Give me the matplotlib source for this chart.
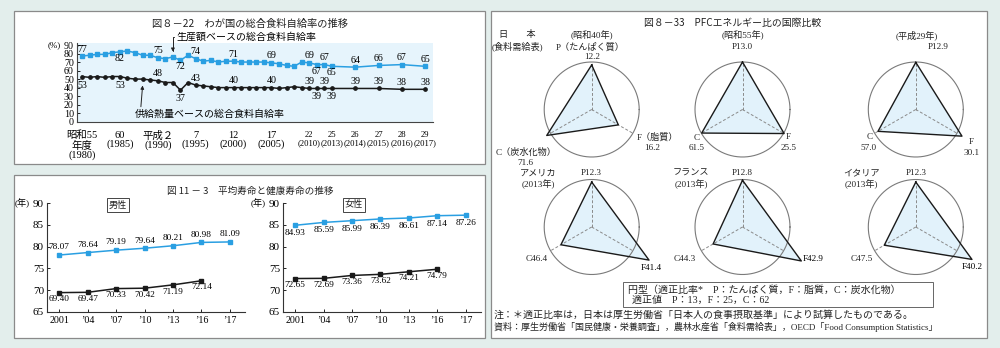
import numpy as np
import matplotlib.pyplot as plt
from matplotlib.patches import Rectangle

plt.rcParams['font.family'] = ['Liberation Serif', 'Noto Sans CJK JP']
GOTHIC = ['Noto Sans CJK JP', 'DejaVu Sans']

# 図8-22 総合食料自給率（年度, %）
food_years = list(range(1980, 2018))
food_prod = [77, 78, 79, 79, 81, 82, 83, 81, 78, 78,
             75, 74, 76, 72, 78, 74, 71, 72, 70, 71,
             71, 70, 70, 70, 70, 69, 68, 66, 65, 70,
             69, 67, 67, 65, 64, 66, 67, 65]
food_cal = [53, 52, 53, 52, 53, 53, 51, 50, 50, 49,
            48, 46, 46, 37, 46, 43, 42, 41, 40, 40,
            40, 40, 40, 40, 40, 40, 39, 40, 41, 40,
            39, 39, 39, 39, 39, 39, 38, 38]
label_years = [1980, 1985, 1990, 1993, 1995, 2000, 2005, 2010, 2011, 2012, 2013, 2014, 2015, 2016, 2017]
prod_label_pos = ['up', 'dn', 'up', 'dn', 'up', 'up', 'up', 'up', 'dn', 'up', 'dn', 'up', 'up', 'up', 'up']
cal_label_pos = ['dn', 'dn', 'up', 'dn', 'up', 'up', 'up', 'up', 'dn', 'up', 'dn', 'up', 'up', 'up', 'up']
food_ticks = [1980, 1985, 1990, 1995, 2000, 2005, 2010, 2013, 2014, 2015, 2016, 2017]
food_ticklabels = ['昭和55\n年度\n(1980)', '60\n(1985)', '平成２\n(1990)', '7\n(1995)', '12\n(2000)',
                   '17\n(2005)', '22\n(2010)', '25\n(2013)', '26\n(2014)', '27\n(2015)',
                   '28\n(2016)', '29\n(2017)']

# 図11-3 平均寿命と健康寿命（年）
le_years = ['2001', '’04', '’07', '’10', '’13', '’16', '’17']
male_life = [78.07, 78.64, 79.19, 79.64, 80.21, 80.98, 81.09]
male_healthy = [69.40, 69.47, 70.33, 70.42, 71.19, 72.14]
female_life = [84.93, 85.59, 85.99, 86.39, 86.61, 87.14, 87.26]
female_healthy = [72.65, 72.69, 73.36, 73.62, 74.21, 74.79]

# 図8-33 PFCエネルギー比
pfc_P = [12.2, 13.0, 12.9, 12.3, 12.8, 12.3]
pfc_F = [16.2, 25.5, 30.1, 41.4, 42.9, 40.2]
pfc_C = [71.6, 61.5, 57.0, 46.4, 44.3, 47.5]
pfc_ideal = [13, 25, 62]

BLUE = '#2a9fe2'
INK = '#1a1a1a'
W, H = 1000, 348

fig = plt.figure(figsize=(10, 3.48), dpi=100)
fig.patch.set_facecolor('#e3eeec')


def frac_rect(x0, y0, x1, y1):
    return [x0 / W, 1 - y1 / H, (x1 - x0) / W, (y1 - y0) / H]


def ftext(x, y, s, **kw):
    kw.setdefault('ha', 'center')
    kw.setdefault('va', 'center')
    kw.setdefault('fontsize', 6.6)
    kw.setdefault('color', '#222')
    fig.text(x / W, 1 - y / H, s, **kw)


# パネルの枠
for box in [(13.5, 11, 485, 164), (13.5, 175, 485, 338), (490.5, 11, 987, 338)]:
    l, b, w, h = frac_rect(*box)
    fig.add_artist(Rectangle((l, b), w, h, transform=fig.transFigure, facecolor='white',
                             edgecolor='#8a8a8a', lw=0.9, zorder=-5))

# ---- 図8-22 ----
GAP = 3.07


def x_fwd(x):
    x = np.asarray(x, dtype=float)
    return np.where(x <= 2013, x, 2013 + (x - 2013) * GAP)


def x_inv(s):
    s = np.asarray(s, dtype=float)
    return np.where(s <= 2013, s, 2013 + (s - 2013) / GAP)


ax = fig.add_axes(frac_rect(76.7, 43.3, 432.7, 121.7))
ax.set_facecolor('#e6f4fc')
ax.set_xscale('function', functions=(x_fwd, x_inv))
ax.set_xlim(1979.3, 2017.33)
ax.set_ylim(0, 92)
ax.plot(food_years, food_prod, '-s', color=BLUE, ms=2.6, lw=1.1)
ax.plot(food_years, food_cal, '-o', color=INK, ms=2.4, lw=1.1)
for s in ['top', 'right']:
    ax.spines[s].set_visible(False)
for s in ['left', 'bottom']:
    ax.spines[s].set_color('#444')
    ax.spines[s].set_linewidth(0.8)
ax.set_yticks(range(0, 91, 10))
ax.tick_params(axis='y', direction='in', length=2.5, width=0.6, pad=2, labelsize=7.2)
ax.set_xticks(food_ticks)
ax.set_xticklabels(food_ticklabels, linespacing=1.0)
ax.minorticks_off()
ax.tick_params(axis='x', length=0, pad=6.5, labelsize=7.5)
for t, yr in zip(ax.get_xticklabels(), food_ticks):
    if yr >= 2010:
        t.set_fontsize(6.2)
ax.annotate('(%)', xy=(0, 90), xycoords=('axes fraction', 'data'), xytext=(-16, 0),
            textcoords='offset pixels', ha='right', va='center', fontsize=6.5)

for yr, p1, p2 in zip(label_years, prod_label_pos, cal_label_pos):
    v = food_prod[yr - 1980]
    ax.annotate(str(v), (yr, v), xytext=(0, 7 if p1 == 'up' else -6.5), textcoords='offset pixels',
                ha='center', va='center', fontsize=7.2, annotation_clip=False)
    v = food_cal[yr - 1980]
    ax.annotate(str(v), (yr, v), xytext=(0, 7 if p2 == 'up' else -8.5), textcoords='offset pixels',
                ha='center', va='center', fontsize=7.2, annotation_clip=False)

v = food_prod[1992 - 1980]
ax.annotate('生産額ベースの総合食料自給率', xy=(1992, v + 6), xytext=(1992.5, 99),
            ha='left', va='center', fontsize=7.2, annotation_clip=False,
            arrowprops=dict(arrowstyle='-|>', color='#222', lw=0.7, shrinkA=0, shrinkB=0,
                            relpos=(0, 0.5), mutation_scale=5,
                            connectionstyle='angle,angleA=180,angleB=90,rad=0'))
v = food_cal[1988 - 1980]
ax.annotate('供給熱量ベースの総合食料自給率', xy=(1988, v - 7.5), xytext=(1987.0, 8.7),
            ha='left', va='center', fontsize=7.2, annotation_clip=False,
            arrowprops=dict(arrowstyle='-|>', color='#222', lw=0.7, shrinkA=0, shrinkB=0,
                            relpos=(0.037, 0.9), mutation_scale=5))
ftext(250, 24, '図８－22　わが国の総合食料自給率の推移', family=GOTHIC, fontsize=7.4)

# ---- 図11-3 ----
panels = [
    (46.7, 245.0, male_life, male_healthy, 7.7, -6.7, '男性', 118),
    (282.7, 480.7, female_life, female_healthy, -8.0, -6.5, '女性', 354),
]
for x0, x1, life, healthy, off_l, off_h, name, nx in panels:
    la = fig.add_axes(frac_rect(x0, 203.3, x1, 311.7))
    la.set_facecolor('none')
    la.plot(le_years, life, '-s', color=BLUE, ms=3.2, lw=1.1, clip_on=False)
    la.plot(le_years[:len(healthy)], healthy, '-s', color=INK, ms=3.2, lw=1.1, clip_on=False)
    la.set_xlim(-0.44, 6.53)
    la.set_ylim(65, 90)
    la.set_yticks(range(65, 91, 5))
    for s in ['top', 'right']:
        la.spines[s].set_visible(False)
    for s in ['left', 'bottom']:
        la.spines[s].set_color('#333')
        la.spines[s].set_linewidth(0.8)
    la.tick_params(direction='in', length=2.5, width=0.6, labelsize=7.2, pad=3)
    la.tick_params(axis='y', labelsize=8.0, pad=2)
    la.annotate('(年)', xy=(0, 90), xycoords=('axes fraction', 'data'), xytext=(-17, 0),
                textcoords='offset pixels', ha='right', va='center', fontsize=6.6)
    for i, v in enumerate(life):
        la.annotate(f'{v:.2f}', (i, v), xytext=(0, off_l), textcoords='offset pixels',
                    ha='center', va='center', fontsize=6.7, annotation_clip=False)
    for i, v in enumerate(healthy):
        la.annotate(f'{v:.2f}', (i, v), xytext=(0, off_h), textcoords='offset pixels',
                    ha='center', va='center', fontsize=6.7, annotation_clip=False)
    ftext(nx, 205, name, fontsize=6.6,
          bbox=dict(boxstyle='square,pad=0.25', fc='white', ec='#444', lw=0.7))
ftext(250, 191, '図 11 － 3　平均寿命と健康寿命の推移', family=GOTHIC, fontsize=6.9)

# ---- 図8-33 ----
K = 0.6


def r_fwd(r):
    r = np.asarray(r, dtype=float)
    return np.where(r <= 1, r, 1 + K * (r - 1))


def r_inv(s):
    s = np.asarray(s, dtype=float)
    return np.where(s <= 1, s, 1 + (s - 1) / K)


theta = np.radians([90, -30, 210])
RPX, RMAX = 47.5, 2.0
half = RPX * float(r_fwd(RMAX))
centers = [(591.7, 109.5), (742.5, 109.5), (915.8, 109.5),
           (591.7, 227.0), (742.5, 227.0), (915.8, 227.0)]

for i, (cx, cy) in enumerate(centers):
    pax = fig.add_axes(frac_rect(cx - half, cy - half, cx + half, cy + half), projection='polar')
    pax.set_rscale('function', functions=(r_fwd, r_inv))
    pax.set_ylim(0, RMAX)
    pax.set_axis_off()
    ratios = np.array([pfc_P[i], pfc_F[i], pfc_C[i]]) / np.array(pfc_ideal)
    tt = np.append(theta, theta[0])
    rr = np.append(ratios, ratios[0])
    pax.fill(tt, rr, facecolor='#e2f2fb', edgecolor='none', zorder=1)
    circ = np.linspace(0, 2 * np.pi, 361)
    pax.plot(circ, np.ones_like(circ), color='#7a7a7a', lw=0.8, zorder=2)
    for th in theta:
        pax.plot([th, th], [0, 1], ls=(0, (3, 2)), color='#8a8a8a', lw=0.7, zorder=3)
    pax.plot(tt, rr, color=INK, lw=1.0, zorder=4)
    if i >= 3:
        ha, dx, dy = [('center', 2, -7.5), ('left', 1, 1.5), ('center', 0, -7.5)][i - 3]
        pax.annotate(f'F{pfc_F[i]:.1f}', (theta[1], ratios[1]), xytext=(dx, dy),
                     textcoords='offset pixels', ha=ha, va='center', fontsize=6.6,
                     annotation_clip=False)

# 日本（食料需給表）
c = centers[0]
ftext(c[0] - 74.7, c[1] - 74.5, '日　　本')
ftext(c[0] - 74.0, c[1] - 62.8, '(食料需給表)')
ftext(c[0], c[1] - 74.5, '(昭和40年)')
ftext(c[0] - 1.7, c[1] - 62.8, 'P（たんぱく質）')
ftext(c[0], c[1] - 52.8, f'{pfc_P[0]:.1f}')
ftext(c[0] + 45, c[1] + 27.2, 'F（脂質）', ha='left')
ftext(c[0] + 60, c[1] + 38.2, f'{pfc_F[0]:.1f}')
ftext(c[0] - 65.2, c[1] + 43.2, 'C（炭水化物）')
ftext(c[0] - 66.7, c[1] + 53.2, f'{pfc_C[0]:.1f}')

c = centers[1]
ftext(c[0], c[1] - 74.5, '(昭和55年)')
ftext(c[0], c[1] - 62.8, f'P{pfc_P[1]:.1f}')
ftext(c[0] + 45.5, c[1] + 27.5, 'F')
ftext(c[0] + 46.5, c[1] + 38.2, f'{pfc_F[1]:.1f}')
ftext(c[0] - 45.8, c[1] + 28.2, 'C')
ftext(c[0] - 45.8, c[1] + 38.8, f'{pfc_C[1]:.1f}')

c = centers[2]
ftext(c[0] + 1, c[1] - 74.5, '(平成29年)')
ftext(c[0] + 22.5, c[1] - 62.8, f'P{pfc_P[2]:.1f}')
ftext(c[0] + 55.9, c[1] + 32.2, 'F')
ftext(c[0] + 55.9, c[1] + 43.8, f'{pfc_F[2]:.1f}')
ftext(c[0] - 45.8, c[1] + 27.8, 'C')
ftext(c[0] - 47.5, c[1] + 38.8, f'{pfc_C[2]:.1f}')

for i, name, nx, cxo in [(3, 'アメリカ', -53.7, -55.0), (4, 'フランス', -51.5, -57.5), (5, 'イタリア', -54.0, -54.0)]:
    c = centers[i]
    ftext(c[0] + nx, c[1] - 53.7, name)
    ftext(c[0] + nx, c[1] - 43.0, '(2013年)')
    ftext(c[0], c[1] - 53.7, f'P{pfc_P[i]:.1f}')
    ftext(c[0] + cxo, c[1] + 32.0, f'C{pfc_C[i]:.1f}')

l, b, w, h = frac_rect(623.3, 282.3, 932.7, 306.7)
fig.add_artist(Rectangle((l, b), w, h, transform=fig.transFigure, facecolor='white',
                         edgecolor='#666', lw=0.7))
ftext(628.3, 290.3, '円型（適正比率*　P：たんぱく質，F：脂質，C：炭水化物）', ha='left', fontsize=7.2)
ftext(631.7, 300.5, f'適正値　P：{pfc_ideal[0]}，F：{pfc_ideal[1]}，C：{pfc_ideal[2]}', ha='left', fontsize=7.2)
ftext(493.5, 314.5, '注：＊適正比率は，日本は厚生労働省「日本人の食事摂取基準」により試算したものである。',
      ha='left', fontsize=7.2)
ftext(493.5, 326.5, '資料：厚生労働省「国民健康・栄養調査」，農林水産省「食料需給表」，OECD「Food Consumption Statistics」',
      ha='left', fontsize=6.5)
ftext(733, 23.3, '図８－33　PFCエネルギー比の国際比較', family=GOTHIC, fontsize=7.1)

fig.savefig('out.png', dpi=100, facecolor=fig.get_facecolor())
